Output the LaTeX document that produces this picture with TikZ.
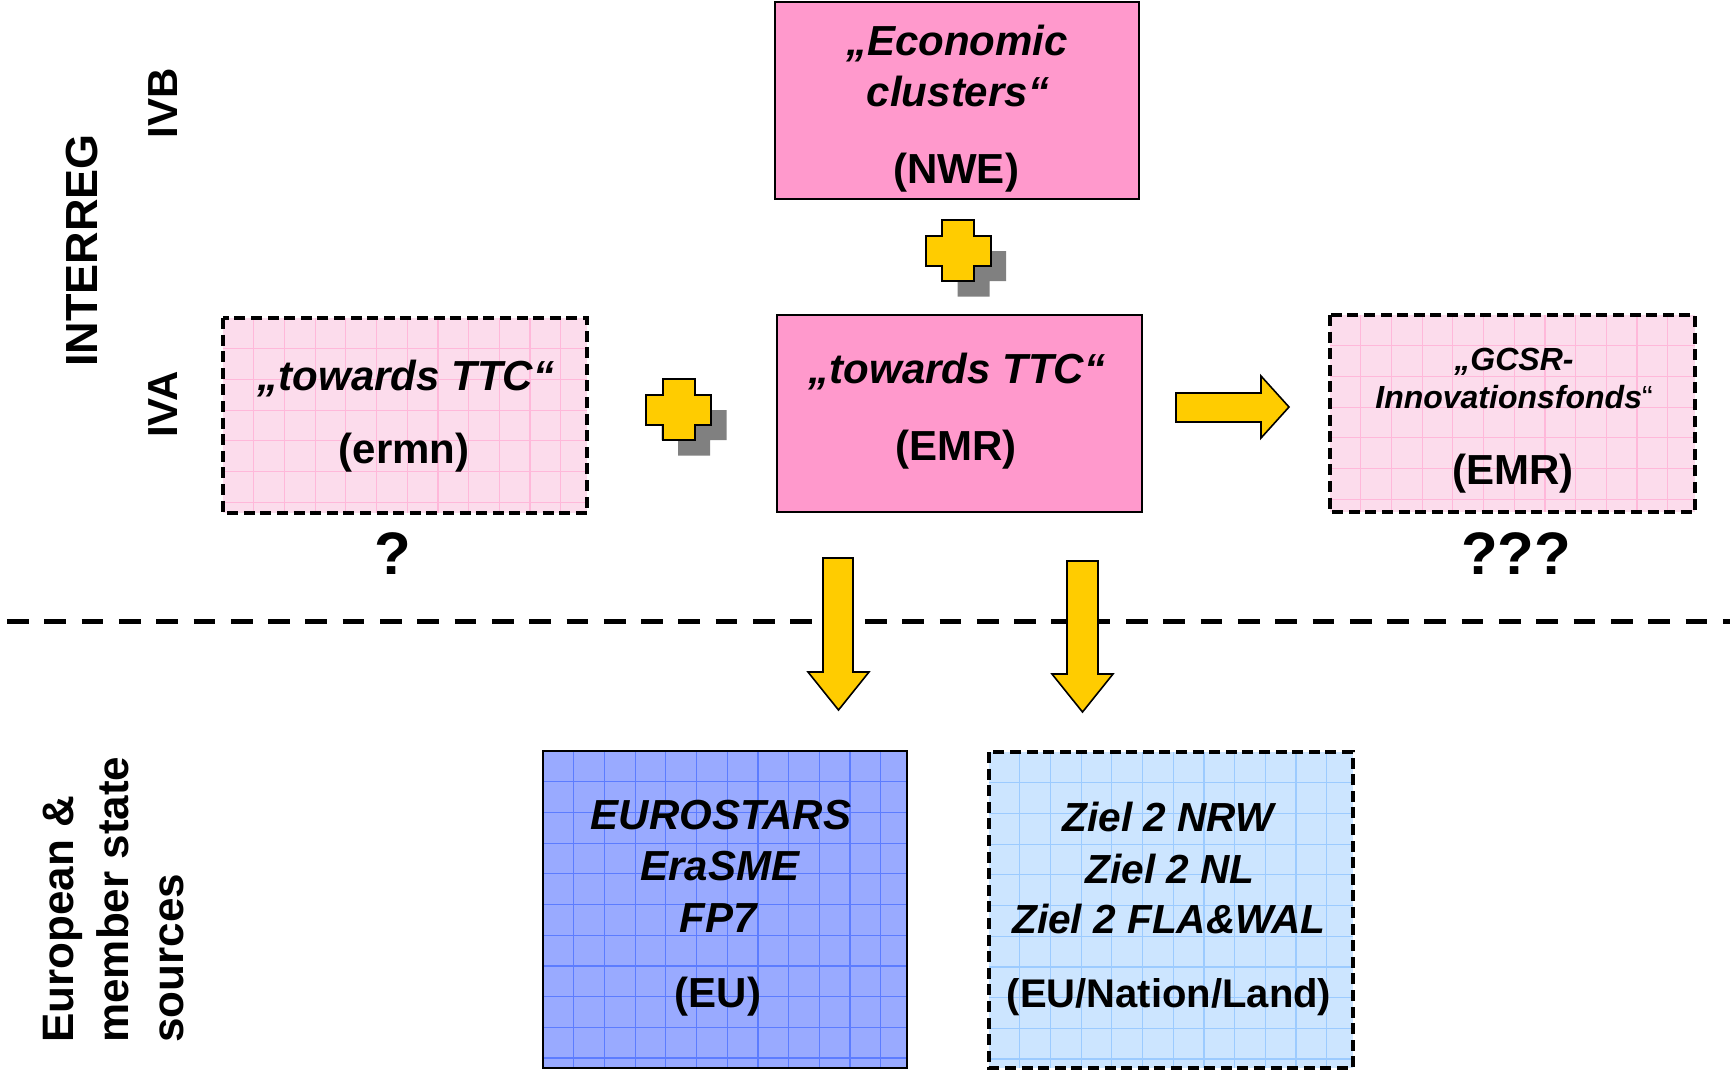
\documentclass[tikz,border=0pt]{standalone}
\usepackage{fontspec}
\setmainfont{Liberation Sans}
\definecolor{pinkA}{HTML}{FF99CC}
\definecolor{pinkL}{HTML}{FCDCEC}
\definecolor{pinkG}{HTML}{FFB8DA}
\definecolor{blueA}{HTML}{99AAFF}
\definecolor{blueAG}{HTML}{5C7CFF}
\definecolor{blueL}{HTML}{CCE5FF}
\definecolor{blueLG}{HTML}{9CCBFF}
\definecolor{arrowY}{HTML}{FFCC00}
\definecolor{shadowG}{HTML}{808080}
\tikzset{
  boxfill/.style={rectangle, draw=none, inner sep=0pt, outer sep=0pt},
  solidborder/.style={draw=black, line width=1.3pt},
  dashborder/.style={draw=black, line width=1.6pt, dash pattern=on 5.5pt off 2.8pt},
  ttl/.style={font=\fontsize{21}{25}\selectfont\bfseries\itshape, anchor=base, inner sep=0pt},
  lbl/.style={font=\fontsize{21}{25}\selectfont\bfseries, anchor=base, inner sep=0pt},
  zttl/.style={font=\fontsize{20.3}{24}\selectfont\bfseries\itshape, anchor=base, inner sep=0pt},
  zlbl/.style={font=\fontsize{20}{24}\selectfont\bfseries, anchor=base, inner sep=0pt},
  smallttl/.style={font=\fontsize{16}{19}\selectfont\bfseries\itshape, anchor=base, inner sep=0pt},
  qmark/.style={font=\fontsize{30}{36}\selectfont\bfseries, anchor=base, inner sep=0pt},
  sidelbl/.style={font=\fontsize{22}{26}\selectfont\bfseries, rotate=90, inner sep=0pt},
  blockarrow/.style={draw=black, line width=0.8pt, fill=arrowY, line join=miter},
  sepline/.style={draw=black, line width=2.5pt, dash pattern=on 10.85pt off 7.8pt},
  plussign/.pic={
    \begin{scope}[shift={(15.5,15.5)}]
      \fill[shadowG] (-16,-30.5) -- (16,-30.5) -- (16,-15) -- (32.5,-15) -- (32.5,15) -- (16,15) -- (16,30.5) -- (-16,30.5) -- (-16,15) -- (-32.5,15) -- (-32.5,-15) -- (-16,-15) -- cycle;
    \end{scope}
    \draw[draw=black, line width=1pt, fill=arrowY, line join=miter] (-16,-30.5) -- (16,-30.5) -- (16,-15) -- (32.5,-15) -- (32.5,15) -- (16,15) -- (16,30.5) -- (-16,30.5) -- (-16,15) -- (-32.5,15) -- (-32.5,-15) -- (-16,-15) -- cycle;
  }
}
\newcommand{\gridin}[7]{%
  \foreach \i in {1,...,#6} {\draw[#5, line width=0.6pt] ({#1+\i*30.7},#2) -- ({#1+\i*30.7},#4);}
  \foreach \j in {1,...,#7} {\draw[#5, line width=0.6pt] (#1,{#2+\j*30.7}) -- (#3,{#2+\j*30.7});}
}
\begin{document}
\begin{tikzpicture}[x=0.5pt,y=-0.5pt]
\useasboundingbox (0,0) rectangle (1730,1071);

% separator line
\coordinate (sepL) at (7,621);
\coordinate (sepR) at (1730,621);
\draw[sepline] (sepL) -- (sepR);

% top box NWE
\node[boxfill, fill=pinkA, minimum width=182pt, minimum height=98.5pt] (nwe) at (957,100.5) {};
\draw[solidborder] (nwe.north west) rectangle (nwe.south east);

% centre box EMR
\node[boxfill, fill=pinkA, minimum width=182.5pt, minimum height=98.5pt] (emr) at (959.5,413.5) {};
\draw[solidborder] (emr.north west) rectangle (emr.south east);

% left dashed box
\node[boxfill, fill=pinkL, minimum width=182pt, minimum height=97.5pt] (ermn) at (405,415.5) {};
\gridin{223}{318}{587}{513}{pinkG}{11}{6}
\draw[dashborder] (ermn.north west) rectangle (ermn.south east);

% right dashed box
\node[boxfill, fill=pinkL, minimum width=182.5pt, minimum height=98.5pt] (gcsr) at (1512.5,413.5) {};
\gridin{1330}{315}{1695}{512}{pinkG}{11}{6}
\draw[dashborder] (gcsr.north west) rectangle (gcsr.south east);

% EU box
\node[boxfill, fill=blueA, minimum width=182pt, minimum height=158.5pt] (eu) at (725,909.5) {};
\gridin{543}{751}{907}{1068}{blueAG}{11}{10}
\draw[solidborder] (eu.north west) rectangle (eu.south east);

% Ziel box
\node[boxfill, fill=blueL, minimum width=182pt, minimum height=158pt] (ziel) at (1171,910) {};
\gridin{989}{752}{1353}{1068}{blueLG}{11}{10}
\draw[dashborder] (ziel.north west) rectangle (ziel.south east);

% plus signs
\pic (plusTop) at (958,250.5) {plussign};
\pic (plusLeft) at (678.5,409.5) {plussign};

% block arrows
\draw[blockarrow] (1176,393) -- (1261,393) -- (1261,376) -- (1289,407) -- (1261,438) -- (1261,422) -- (1176,422) -- cycle;
\draw[blockarrow] (823,558) -- (853,558) -- (853,672) -- (869,672) -- (838.5,710) -- (808,672) -- (823,672) -- cycle;
\draw[blockarrow] (1067,561) -- (1098,561) -- (1098,674) -- (1113,674) -- (1082.5,712) -- (1052,674) -- (1067,674) -- cycle;

% texts in boxes
\node[ttl] (nweA) at (957,55) {„Economic};
\node[ttl] (nweB) at (958,106) {clusters“};
\node[lbl] (nweC) at (956,183) {(NWE)};

\node[ttl] (emrA) at (957,383) {„towards TTC“};
\node[lbl] (emrB) at (956,460) {(EMR)};

\node[ttl] (ermnA) at (406,390) {„towards TTC“};
\node[lbl] (ermnB) at (404,463) {(ermn)};
\node[qmark] (q1) at (393,574) {?};

\node[smallttl] (gA) at (1514,370) {„GCSR-};
\node[smallttl] (gB) at (1514,408) {Innovationsfonds{\mdseries\upshape“}};
\node[lbl] (gC) at (1513,484) {(EMR)};
\node[qmark] (q3) at (1516,574) {???};

\node[ttl] (euA) at (721,829) {EUROSTARS};
\node[ttl] (euB) at (720,880) {EraSME};
\node[ttl] (euC) at (718,932) {FP7};
\node[lbl] (euD) at (718,1007) {(EU)};

\node[zttl] (zA) at (1168,831) {Ziel 2 NRW};
\node[zttl] (zB) at (1170,883) {Ziel 2 NL};
\node[zttl] (zC) at (1169,933) {Ziel 2 FLA\&WAL};
\node[zlbl] (zD) at (1169,1007) {(EU/Nation/Land)};

% side labels
\node[sidelbl, anchor=base, font=\fontsize{22.5}{27}\selectfont\bfseries] (interreg) at (97,250.5) {INTERREG};
\node[sidelbl, anchor=base, font=\fontsize{21}{25}\selectfont\bfseries] (ivb) at (177,103) {IVB};
\node[sidelbl, anchor=base, font=\fontsize{21}{25}\selectfont\bfseries] (iva) at (177,404.5) {IVA};
\node[sidelbl, anchor=base west] (srcA) at (73,1043) {European \&};
\node[sidelbl, anchor=base west] (srcB) at (128,1043) {member state};
\node[sidelbl, anchor=base west] (srcC) at (183,1043) {sources};
\end{tikzpicture}
\end{document}
